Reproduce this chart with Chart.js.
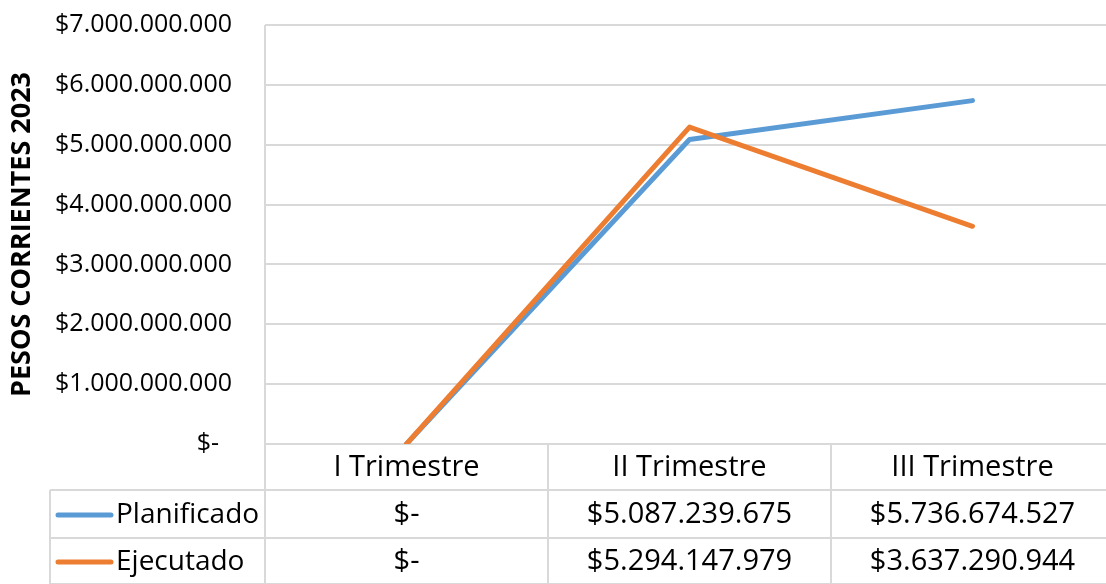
<!DOCTYPE html>
<html>
<head>
<meta charset="utf-8">
<script src="https://cdn.jsdelivr.net/npm/chart.js@4.4.1/dist/chart.umd.min.js"></script>
<style>
html,body{margin:0;padding:0;background:#fff;overflow:hidden;}
#wrap{position:relative;width:1106px;height:584px;overflow:hidden;}
#c{position:absolute;left:0;top:0;}
</style>
</head>
<body>
<div id="wrap"><canvas id="c" width="1114" height="584"></canvas></div>
<script>
const categories = ["I Trimestre", "II Trimestre", "III Trimestre"];
const planificado = [0, 5087239675, 5736674527];
const ejecutado = [0, 5294147979, 3637290944];
const seriesNames = ["Planificado", "Ejecutado"];
const yTitle = "PESOS CORRIENTES 2023";
const yMax = 7000000000;
const yStep = 1000000000;

const BLUE = "#5B9BD5";
const ORANGE = "#ED7D31";
const GRID = "#D9D9D9";
const FONT = "'Open Sans', 'Noto Sans', sans-serif";

function fmt(v) {
  if (v === 0) return "$-";
  return "$" + String(Math.round(v)).replace(/\B(?=(\d{3})+(?!\d))/g, ".");
}

const tablePlugin = {
  id: "dataTable",
  afterDraw(chart) {
    const ctx = chart.ctx;
    const area = chart.chartArea;
    const xs = chart.scales.x;
    const n = categories.length;
    const colW = (area.right - area.left) / n;
    const rowTops = [area.bottom, 490, 538, 584];
    const legendLeft = 50;
    ctx.save();
    ctx.strokeStyle = GRID;
    ctx.lineWidth = 2;
    ctx.beginPath();
    ctx.moveTo(area.left, area.top);
    ctx.lineTo(area.left, 584);
    ctx.stroke();
    for (let i = 1; i <= n; i++) {
      const x = area.left + colW * i;
      ctx.beginPath();
      ctx.moveTo(x, area.bottom);
      ctx.lineTo(x, 584);
      ctx.stroke();
    }
    ctx.beginPath();
    ctx.moveTo(legendLeft, rowTops[1]);
    ctx.lineTo(area.right, rowTops[1]);
    ctx.moveTo(legendLeft, rowTops[2]);
    ctx.lineTo(area.right, rowTops[2]);
    ctx.moveTo(legendLeft, rowTops[3]);
    ctx.lineTo(area.right, rowTops[3]);
    ctx.moveTo(legendLeft, rowTops[1]);
    ctx.lineTo(legendLeft, rowTops[3]);
    ctx.stroke();

    ctx.fillStyle = "#000";
    ctx.font = "29px " + FONT;
    ctx.textAlign = "center";
    ctx.textBaseline = "middle";
    for (let i = 0; i < n; i++) {
      ctx.fillText(categories[i], xs.getPixelForValue(i), (rowTops[0] + rowTops[1]) / 2 + 1);
    }
    const rows = [planificado, ejecutado];
    const colors = [BLUE, ORANGE];
    for (let r = 0; r < rows.length; r++) {
      const yc = (rowTops[r + 1] + rowTops[r + 2]) / 2 + 1;
      ctx.strokeStyle = colors[r];
      ctx.lineWidth = 5;
      ctx.lineCap = "round";
      ctx.beginPath();
      ctx.moveTo(58, yc);
      ctx.lineTo(111, yc);
      ctx.stroke();
      ctx.fillStyle = "#000";
      ctx.textAlign = "left";
      ctx.font = "28px " + FONT;
      ctx.fillText(seriesNames[r], 116, yc);
      ctx.font = "29px " + FONT;
      ctx.textAlign = "center";
      for (let i = 0; i < n; i++) {
        ctx.fillText(fmt(rows[r][i]), xs.getPixelForValue(i), yc);
      }
    }
    ctx.restore();
  }
};

new Chart(document.getElementById("c"), {
  type: "line",
  data: {
    labels: categories,
    datasets: [
      { label: seriesNames[0], data: planificado, borderColor: BLUE, backgroundColor: BLUE,
        borderWidth: 5, pointRadius: 0, tension: 0, borderCapStyle: "round", borderJoinStyle: "round", order: 1 },
      { label: seriesNames[1], data: ejecutado, borderColor: ORANGE, backgroundColor: ORANGE,
        borderWidth: 5, pointRadius: 0, tension: 0, borderCapStyle: "round", borderJoinStyle: "round", order: 0 }
    ]
  },
  options: {
    responsive: false,
    animation: false,
    events: [],
    layout: { padding: { top: 25, right: 0, bottom: 132, left: 0 } },
    plugins: { legend: { display: false }, tooltip: { enabled: false } },
    scales: {
      x: {
        offset: true,
        grid: { display: false },
        border: { display: false },
        ticks: { display: false }
      },
      y: {
        min: 0, max: yMax,
        afterFit(axis) { axis.width = 265; },
        grid: { color: GRID, lineWidth: 2, drawTicks: true, tickLength: 30, tickColor: "rgba(0,0,0,0)" },
        border: { display: false },
        ticks: {
          stepSize: yStep,
          padding: 3,
          color: "#000",
          font: { family: FONT, size: 25 },
          callback: (v) => fmt(v) + (v === 0 ? "  " : "")
        },
        title: {
          display: true,
          text: yTitle,
          color: "#000",
          font: { family: FONT, size: 27, weight: "bold" },
          padding: { top: 6, bottom: 0 }
        }
      }
    }
  },
  plugins: [tablePlugin]
});
</script>
</body>
</html>
